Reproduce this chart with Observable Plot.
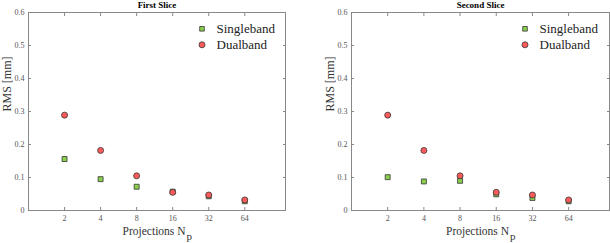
<!DOCTYPE html>
<html><head><meta charset="utf-8">
<script src="https://cdn.jsdelivr.net/npm/d3@7"></script>
<script src="https://cdn.jsdelivr.net/npm/@observablehq/plot@0.6"></script>
<style>
body{margin:0;background:#fff;}
#wrap{position:relative;width:610px;height:243px;overflow:hidden;}
.panel{position:absolute;top:0;width:305px;height:243px;}
</style>
</head><body>
<div id="wrap"></div>
<script>
const projections = [2, 4, 8, 16, 32, 64];
const yTicks = [0, 0.1, 0.2, 0.3, 0.4, 0.5, 0.6];
const titles = ["First Slice", "Second Slice"];
const seriesNames = ["Singleband", "Dualband"];
const single1 = [0.156, 0.095, 0.072, 0.057, 0.043, 0.028];
const dual1   = [0.289, 0.182, 0.105, 0.055, 0.047, 0.032];
const single2 = [0.101, 0.088, 0.090, 0.049, 0.038, 0.028];
const dual2   = [0.289, 0.182, 0.105, 0.055, 0.047, 0.032];

const green = "#8ccf4d", red = "#ff5b5b", edge = "#333";
const font = "Liberation Serif";

function panel(title, single, dual, left, mL, mR) {
  const sRows = projections.map((p, i) => ({p, v: single[i]}));
  const dRows = projections.map((p, i) => ({p, v: dual[i]}));
  const fmt = d => String(d);
  const svg = Plot.plot({
    width: 305, height: 243,
    marginTop: 12, marginBottom: 33, marginLeft: mL, marginRight: mR,
    style: {fontFamily: font, fontSize: "8px", color: "#555", background: "transparent", overflow: "visible"},
    x: {type: "log", base: 2, domain: [1, 140]},
    y: {domain: [0, 0.6]},
    marks: [
      Plot.frame({stroke: "#888"}),
      Plot.axisX(projections, {anchor: "bottom", tickSize: -3, tickPadding: 8, tickFormat: fmt, stroke: "#888", fill: "#555", label: null}),
      Plot.axisX(projections, {anchor: "top", tickSize: -3, tickFormat: () => "", stroke: "#888", label: null}),
      Plot.axisY(yTicks, {anchor: "left", tickSize: -3, tickPadding: 7, tickFormat: fmt, stroke: "#888", fill: "#555", label: null}),
      Plot.axisY(yTicks, {anchor: "right", tickSize: -3, tickFormat: () => "", stroke: "#888", label: null}),
      Plot.dot(sRows, {x: "p", y: "v", symbol: "square", r: 2.8, fill: green, stroke: edge, strokeWidth: 0.8}),
      Plot.dot(dRows, {x: "p", y: "v", symbol: "circle", r: 3, fill: red, stroke: edge, strokeWidth: 0.8}),
      // legend
      Plot.dot([seriesNames[0]], {frameAnchor: "top-left", dx: 173.5, dy: 16.3, symbol: "square", r: 2.6, fill: green, stroke: edge, strokeWidth: 0.8}),
      Plot.dot([seriesNames[1]], {frameAnchor: "top-left", dx: 173.5, dy: 32.3, symbol: "circle", r: 3, fill: red, stroke: edge, strokeWidth: 0.8}),
      Plot.text([seriesNames[0]], {frameAnchor: "top-left", dx: 188, dy: 16.3, text: d => d, textAnchor: "start", lineAnchor: "middle", fontSize: 13, fill: "#222"}),
      Plot.text([seriesNames[1]], {frameAnchor: "top-left", dx: 188, dy: 32.3, text: d => d, textAnchor: "start", lineAnchor: "middle", fontSize: 13, fill: "#222"}),
      // title
      Plot.text([title], {frameAnchor: "top", dy: -7.5, text: d => d, lineAnchor: "middle", fontWeight: "bold", fontSize: 9, fill: "#000"}),
      // y label
      Plot.text(["RMS [mm]"], {frameAnchor: "left", dx: -21.7, rotate: -90, text: d => d, lineAnchor: "middle", fontSize: 12, fill: "#333"}),
      // x label
      Plot.text(["Projections N"], {frameAnchor: "bottom", dx: 28.5, dy: 20.5, text: d => d, textAnchor: "end", lineAnchor: "middle", fontSize: 11.5, fill: "#333"}),
      Plot.text(["p"], {frameAnchor: "bottom", dx: 29.5, dy: 25.5, text: d => d, textAnchor: "start", lineAnchor: "middle", fontSize: 11, fill: "#333"})
    ]
  });
  const div = document.createElement("div");
  div.className = "panel";
  div.style.left = left + "px";
  div.appendChild(svg);
  document.getElementById("wrap").appendChild(div);
}

panel(titles[0], single1, dual1, 0, 28, 20);
panel(titles[1], single2, dual2, 305, 46, 1);
</script>
</body></html>
